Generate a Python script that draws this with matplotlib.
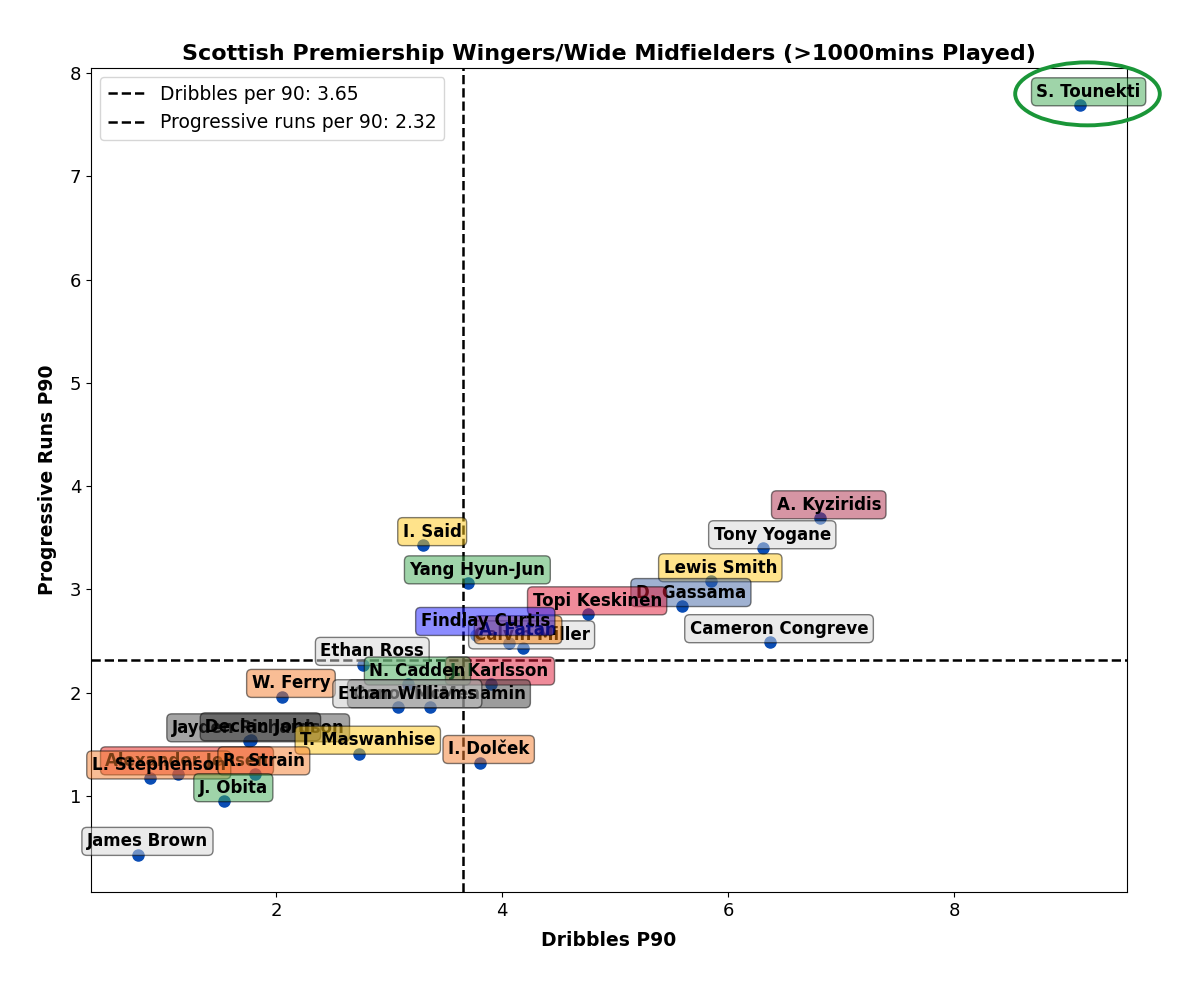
import matplotlib
matplotlib.use("Agg")
import matplotlib.pyplot as plt
from matplotlib.patches import Ellipse

# player data (drawing order matters for overlapping labels)
players = [
    "S. Tounekti", "A. Kyziridis", "Tony Yogane", "Lewis Smith", "D. Gassama",
    "Topi Keskinen", "Cameron Congreve", "I. Said", "Yang Hyun-Jun",
    "Calvin Miller", "A. Fatah", "Findlay Curtis", "Ethan Ross", "J. Karlsson",
    "N. Cadden", "W. Ferry", "Conor McMenamin", "Ethan Williams",
    "Jayden Richardson", "Declan John", "T. Maswanhise", "I. Dolček",
    "Alexander Jensen", "L. Stephenson", "R. Strain", "J. Obita", "James Brown",
]
dribbles_p90 = [
    9.11, 6.81, 6.31, 5.85, 5.59,
    4.76, 6.37, 3.30, 3.70,
    4.18, 4.06, 3.77, 2.77, 3.90,
    3.17, 2.05, 3.36, 3.08,
    1.76, 1.78, 2.73, 3.80,
    1.13, 0.88, 1.81, 1.54, 0.78,
]
prog_runs_p90 = [
    7.69, 3.69, 3.40, 3.08, 2.84,
    2.76, 2.49, 3.43, 3.06,
    2.43, 2.48, 2.56, 2.27, 2.08,
    2.08, 1.96, 1.86, 1.86,
    1.53, 1.54, 1.41, 1.32,
    1.21, 1.17, 1.21, 0.95, 0.43,
]
avg_dribbles = 3.65
avg_prog_runs = 2.32

# label box colours per player (same order as above)
box_colours = [
    "#41ab55", "#af2d4b", "#d7d7d7", "#ffc919", "#4165a5",
    "#e11937", "#d7d7d7", "#ffc919", "#41ab55",
    "#d7d7d7", "#f57a00", "#1a1aff", "#d7d7d7", "#e11937",
    "#41ab55", "#f57d2d", "#3a3a3a", "#c8c8c8",
    "#4a4a4a", "#303030", "#ffc919", "#f57d2d",
    "#e8211b", "#f57d2d", "#f57d2d", "#41ab55", "#d7d7d7",
]

fig, ax = plt.subplots(figsize=(12, 9.89), dpi=100)
fig.subplots_adjust(left=0.0758, right=0.9392, top=0.9312, bottom=0.0981)

ax.scatter(dribbles_p90, prog_runs_p90, s=64, color="#0a4db5", zorder=2)

for name, x, y, c in zip(players, dribbles_p90, prog_runs_p90, box_colours):
    ax.text(x + 0.08, y + 0.13, name, fontsize=12, fontweight="bold",
            ha="center", va="center", zorder=3,
            bbox=dict(facecolor=c, alpha=0.5, boxstyle="round,pad=0.3"))

ax.axvline(avg_dribbles, color="black", linestyle="--", linewidth=1.8,
           label="Dribbles per 90: %.2f" % avg_dribbles)
ax.axhline(avg_prog_runs, color="black", linestyle="--", linewidth=1.8,
           label="Progressive runs per 90: %.2f" % avg_prog_runs)

# highlight the standout player
ell = Ellipse((dribbles_p90[0] + 0.07, prog_runs_p90[0] + 0.11), 1.28, 0.61,
              fill=False, edgecolor="#1a9638", linewidth=2.8, clip_on=False, zorder=4)
ax.add_patch(ell)

ax.set_xlim(0.36, 9.53)
ax.set_ylim(0.07, 8.05)
ax.set_xticks([2, 4, 6, 8])
ax.set_yticks(range(1, 9))
ax.tick_params(labelsize=13)

ax.set_xlabel("Dribbles P90", fontsize=13.5, fontweight="bold", labelpad=8)
ax.set_ylabel("Progressive Runs P90", fontsize=13.5, fontweight="bold", labelpad=9)
ax.set_title("Scottish Premiership Wingers/Wide Midfielders (>1000mins Played)",
             fontsize=16, fontweight="bold")
ax.legend(loc="upper left", fontsize=13.5)

plt.savefig("out.png", dpi=100)
